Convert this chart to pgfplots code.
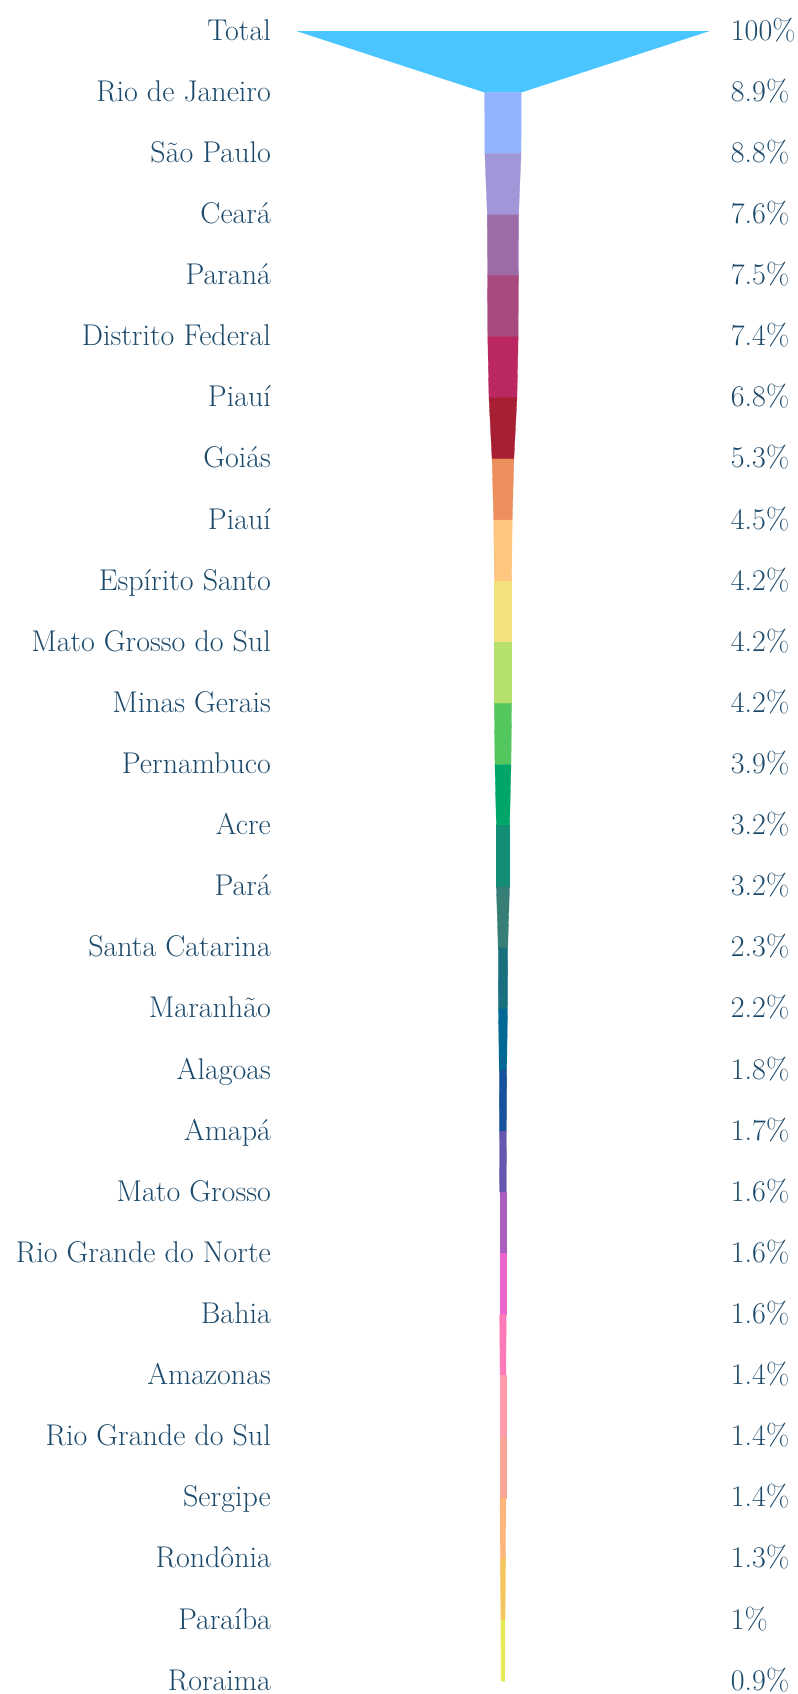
\documentclass[border=0pt]{standalone}
\usepackage{fontspec}
\usepackage{pgfplots}
\usepackage{pgfplotstable}
\pgfplotsset{compat=1.18}
\definecolor{txt}{HTML}{1C4A6C}
\definecolor{c0}{HTML}{4BC5FF}
\definecolor{c1}{HTML}{92B4FF}
\definecolor{c2}{HTML}{A096D8}
\definecolor{c3}{HTML}{9D6BA8}
\definecolor{c4}{HTML}{A8497F}
\definecolor{c5}{HTML}{BA2761}
\definecolor{c6}{HTML}{A61F33}
\definecolor{c7}{HTML}{EC8F5C}
\definecolor{c8}{HTML}{FEC67F}
\definecolor{c9}{HTML}{F2E27D}
\definecolor{c10}{HTML}{B6E06D}
\definecolor{c11}{HTML}{54C65E}
\definecolor{c12}{HTML}{00A667}
\definecolor{c13}{HTML}{138E74}
\definecolor{c14}{HTML}{377E76}
\definecolor{c15}{HTML}{196F7D}
\definecolor{c16}{HTML}{006893}
\definecolor{c17}{HTML}{16539B}
\definecolor{c18}{HTML}{6756AD}
\definecolor{c19}{HTML}{A95EC0}
\definecolor{c20}{HTML}{EB66CC}
\definecolor{c21}{HTML}{FF7AB9}
\definecolor{c22}{HTML}{FF9BAA}
\definecolor{c23}{HTML}{F8A598}
\definecolor{c24}{HTML}{FFB47A}
\definecolor{c25}{HTML}{F2C55E}
\definecolor{c26}{HTML}{E4EA55}
\pgfplotstableread[col sep=comma]{
idx,value,name
0,100,Total
1,8.9,Rio de Janeiro
2,8.8,São Paulo
3,7.6,Ceará
4,7.5,Paraná
5,7.4,Distrito Federal
6,6.8,Piauí
7,5.3,Goiás
8,4.5,Piauí
9,4.2,Espírito Santo
10,4.2,Mato Grosso do Sul
11,4.2,Minas Gerais
12,3.9,Pernambuco
13,3.2,Acre
14,3.2,Pará
15,2.3,Santa Catarina
16,2.2,Maranhão
17,1.8,Alagoas
18,1.7,Amapá
19,1.6,Mato Grosso
20,1.6,Rio Grande do Norte
21,1.6,Bahia
22,1.4,Amazonas
23,1.4,Rio Grande do Sul
24,1.4,Sergipe
25,1.3,Rondônia
26,1,Paraíba
27,0.9,Roraima
}\data
\begin{document}
\begin{tikzpicture}
\begin{axis}[
  width=798bp, height=1694bp, scale only axis,
  xmin=-244.8, xmax=143.6, ymin=-0.511, ymax=27.21, y dir=reverse,
  hide axis, clip=false,
  every axis plot/.append style={line width=0.3bp},
]
\addplot[fill=c0, draw=c0] coordinates {(-100,0) (100,0) (8.9,1) (-8.9,1)} -- cycle;
\addplot[fill=c1, draw=c1] coordinates {(-8.9,1) (8.9,1) (8.8,2) (-8.8,2)} -- cycle;
\addplot[fill=c2, draw=c2] coordinates {(-8.8,2) (8.8,2) (7.6,3) (-7.6,3)} -- cycle;
\addplot[fill=c3, draw=c3] coordinates {(-7.6,3) (7.6,3) (7.5,4) (-7.5,4)} -- cycle;
\addplot[fill=c4, draw=c4] coordinates {(-7.5,4) (7.5,4) (7.4,5) (-7.4,5)} -- cycle;
\addplot[fill=c5, draw=c5] coordinates {(-7.4,5) (7.4,5) (6.8,6) (-6.8,6)} -- cycle;
\addplot[fill=c6, draw=c6] coordinates {(-6.8,6) (6.8,6) (5.3,7) (-5.3,7)} -- cycle;
\addplot[fill=c7, draw=c7] coordinates {(-5.3,7) (5.3,7) (4.5,8) (-4.5,8)} -- cycle;
\addplot[fill=c8, draw=c8] coordinates {(-4.5,8) (4.5,8) (4.2,9) (-4.2,9)} -- cycle;
\addplot[fill=c9, draw=c9] coordinates {(-4.2,9) (4.2,9) (4.2,10) (-4.2,10)} -- cycle;
\addplot[fill=c10, draw=c10] coordinates {(-4.2,10) (4.2,10) (4.2,11) (-4.2,11)} -- cycle;
\addplot[fill=c11, draw=c11] coordinates {(-4.2,11) (4.2,11) (3.9,12) (-3.9,12)} -- cycle;
\addplot[fill=c12, draw=c12] coordinates {(-3.9,12) (3.9,12) (3.2,13) (-3.2,13)} -- cycle;
\addplot[fill=c13, draw=c13] coordinates {(-3.2,13) (3.2,13) (3.2,14) (-3.2,14)} -- cycle;
\addplot[fill=c14, draw=c14] coordinates {(-3.2,14) (3.2,14) (2.3,15) (-2.3,15)} -- cycle;
\addplot[fill=c15, draw=c15] coordinates {(-2.3,15) (2.3,15) (2.2,16) (-2.2,16)} -- cycle;
\addplot[fill=c16, draw=c16] coordinates {(-2.2,16) (2.2,16) (1.8,17) (-1.8,17)} -- cycle;
\addplot[fill=c17, draw=c17] coordinates {(-1.8,17) (1.8,17) (1.7,18) (-1.7,18)} -- cycle;
\addplot[fill=c18, draw=c18] coordinates {(-1.7,18) (1.7,18) (1.6,19) (-1.6,19)} -- cycle;
\addplot[fill=c19, draw=c19] coordinates {(-1.6,19) (1.6,19) (1.6,20) (-1.6,20)} -- cycle;
\addplot[fill=c20, draw=c20] coordinates {(-1.6,20) (1.6,20) (1.6,21) (-1.6,21)} -- cycle;
\addplot[fill=c21, draw=c21] coordinates {(-1.6,21) (1.6,21) (1.4,22) (-1.4,22)} -- cycle;
\addplot[fill=c22, draw=c22] coordinates {(-1.4,22) (1.4,22) (1.4,23) (-1.4,23)} -- cycle;
\addplot[fill=c23, draw=c23] coordinates {(-1.4,23) (1.4,23) (1.4,24) (-1.4,24)} -- cycle;
\addplot[fill=c24, draw=c24] coordinates {(-1.4,24) (1.4,24) (1.3,25) (-1.3,25)} -- cycle;
\addplot[fill=c25, draw=c25] coordinates {(-1.3,25) (1.3,25) (1,26) (-1,26)} -- cycle;
\addplot[fill=c26, draw=c26] coordinates {(-1,26) (1,26) (0.9,27) (-0.9,27)} -- cycle;
% category names
\addplot[draw=none, mark=none, nodes near coords, point meta=explicit symbolic,
  nodes near coords style={anchor=base east, inner sep=0pt, yshift=-9bp,
    text=txt, font=\fontsize{30bp}{36bp}\selectfont}]
  table[x expr=-112.9, y=idx, meta=name] {\data};
% percentages
\addplot[draw=none, mark=none, nodes near coords={\pgfplotspointmeta\%}, point meta=explicit symbolic,
  nodes near coords style={anchor=base west, inner sep=0pt, yshift=-9bp,
    text=txt, font=\fontsize{30bp}{36bp}\selectfont}]
  table[x expr=110.9, y=idx, meta=value] {\data};
\end{axis}
\pgfresetboundingbox
\path (0,0) rectangle (798bp,1694bp);
\end{tikzpicture}
\end{document}
